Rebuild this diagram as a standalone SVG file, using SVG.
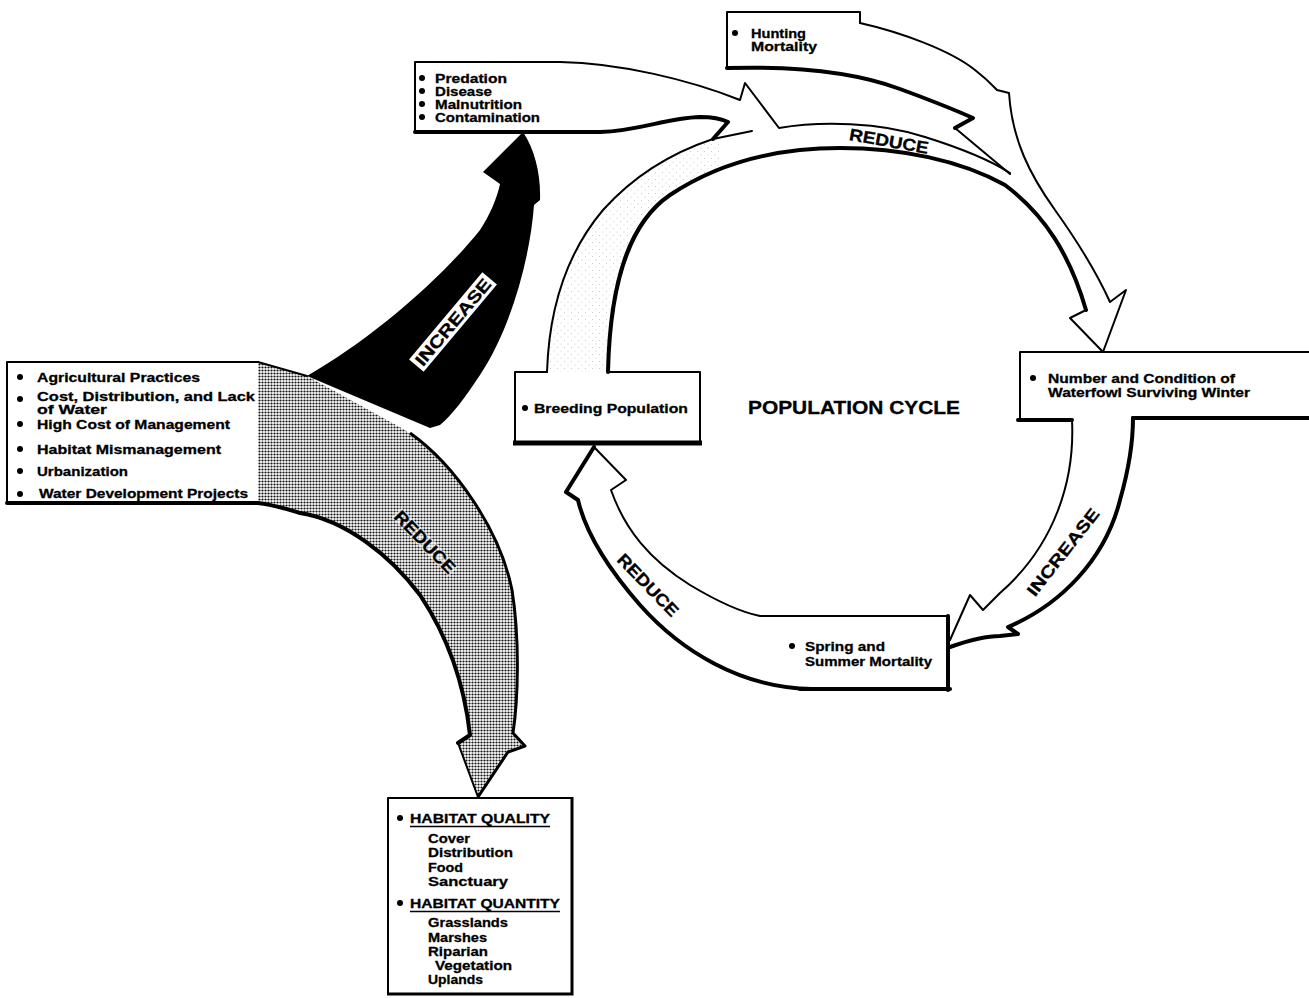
<svg xmlns="http://www.w3.org/2000/svg" width="1309" height="998" viewBox="0 0 1309 998">
<defs>
<pattern id="stipple" width="3" height="3" patternUnits="userSpaceOnUse"><rect width="3" height="3" fill="#fff"/><circle cx="1.5" cy="1.5" r="1.1" fill="#111"/></pattern>
<pattern id="lightdots" width="7" height="7" patternUnits="userSpaceOnUse"><circle cx="1" cy="1" r="0.5" fill="#bbb"/><circle cx="4.5" cy="4.5" r="0.5" fill="#bbb"/></pattern>
<clipPath id="leftarc"><rect x="530" y="120" width="190" height="260"/></clipPath>
</defs>
<style>
.t{font-family:"Liberation Sans",Arial,Helvetica,sans-serif;font-weight:bold;font-size:13.5px;fill:#000;stroke:#000;stroke-width:0.3}
.s{font-size:13px}
.lbl{font-family:"Liberation Sans",Arial,Helvetica,sans-serif;font-weight:bold;font-size:17px;fill:#000;stroke:#000;stroke-width:0.3}
.big{font-family:"Liberation Sans",Arial,Helvetica,sans-serif;font-weight:bold;font-size:18px;fill:#000;stroke:#000;stroke-width:0.3}
.thin{fill:none;stroke:#000;stroke-width:2;stroke-linejoin:round;stroke-linecap:round}
.thick{fill:none;stroke:#000;stroke-width:4;stroke-linejoin:round;stroke-linecap:round}
.wf{fill:#fff;stroke:none}
.b{fill:#000}
</style>
<rect width="1309" height="998" fill="#fff"/>

<g id="connectors">
  <g id="connector-fills">
    <path id="ring-top-fill" class="wf" d="M547,372 C549,310 565,255 603,210 C630,180 665,155 714,139 L779,128 C820,121 880,122 925,137 C960,148 990,160 1010,173 L1035,182 C1060,215 1095,270 1110,302 L1126,290 L1103,352 L1070,318 L1086,310 C1070,255 1045,215 1005,185 C960,160 900,148 840,148 C770,148 715,165 670,195 C630,222 610,280 608,372 Z"/>
    <path fill="url(#lightdots)" clip-path="url(#leftarc)" d="M547,372 C549,310 565,255 603,210 C630,180 665,155 714,139 L779,128 L790,150 C770,148 715,165 670,195 C630,222 610,280 608,372 Z"/>
    <path id="predation-arrow-fill" class="wf" d="M560,62 C620,63 690,80 740,100 L745,83 L790,136 L752,131 L713,139 L728,122 C722,119 712,117 700,117 C665,118 640,131 600,132 L560,132 Z"/>
    <path id="hunting-arrow-fill" class="wf" d="M858,12 H860 V23 C900,32 950,50 975,70 C988,80 995,88 997,90 L1009,93 C1012,140 1030,175 1040,190 L1010,174 L955,128 L973,118 C955,110 930,100 900,89 C880,80 870,74 858,72 Z"/>
    <path id="reduce-lower-fill" class="wf" d="M805,689 C740,688 680,650 640,605 C605,565 585,530 578,500 L566,492 L594,447 L626,480 L611,490 C625,530 650,560 690,585 C715,600 740,612 760,616 L800,616 Z"/>
    <path id="increase-right-fill" class="wf" d="M1072,418 C1075,480 1055,545 1000,593 L983,610 L970,595 L950,640 L952,646 C970,640 985,636 1000,636 L1018,634 L1008,627 C1060,605 1105,560 1120,500 C1130,465 1133,440 1133,418 Z"/>
    <path id="reduce-gray-fill" fill="url(#stipple)" d="M258,362 L307,376 L405,430 C455,465 500,530 512,590 C520,640 518,700 513,733 L525,746 L508,752 L478,797 L458,743 L470,735 C465,690 450,640 420,595 C390,555 345,520 300,513 L258,503 Z"/>
    <path id="increase-black-fill" fill="#000" d="M307,376 C370,340 440,280 480,230 C490,215 497,198 500,184 L483,172 L523,132 C535,150 541,175 540,200 L534,205 C530,260 510,330 480,375 C465,398 452,415 440,425 L430,428 Z"/>
  </g>
  <g id="connector-strokes">
    <path class="thin" d="M560,62 C620,63 690,80 740,100 L745,83 L779,128 C820,121 880,122 925,137 C960,148 990,160 1010,173"/>
    <path class="thick" d="M415,132 H600 C640,131 665,118 700,117 C712,117 722,119 728,122 L713,139"/>
    <path class="thin" d="M547,372 C549,310 565,255 603,210 C630,180 665,155 713,139 L752,131"/>
    <path class="thick" d="M727,68 C800,66 860,74 900,89 C930,100 955,110 973,118 L955,128"/>
    <path class="thin" d="M955,128 L1010,174"/>
    <path class="thin" d="M860,23 C900,32 950,50 975,70 C988,80 995,88 997,90 L1009,93 C1012,140 1030,175 1055,210 C1080,245 1100,280 1110,302 L1126,290 L1103,352"/>
    <path class="thin" d="M1103,352 L1070,318 L1086,310"/>
    <path class="thick" d="M1086,310 C1070,255 1045,215 1005,185 C960,160 900,148 840,148 C770,148 715,165 670,195 C630,222 610,280 608,372"/>
    <path class="thick" d="M812,689 C740,688 680,650 640,605 C605,565 585,530 578,500 L566,492 L594,447"/>
    <path class="thin" d="M594,447 L626,480 L611,490 C625,530 650,560 690,585 C715,600 740,612 760,616 H948"/>
    <path class="thin" d="M1072,420 C1075,480 1055,545 1000,593 L983,610 L970,595 L950,640"/>
    <path class="thick" d="M1133,418 C1133,440 1130,465 1120,500 C1105,560 1060,605 1008,627 L1018,634 L1000,636 C985,636 970,640 950,647"/>
    <path class="thin" d="M258,362 L307,376"/>
    <path class="thick" d="M7,503 H258 C275,505 290,510 300,513 C345,520 390,555 420,595 C450,640 465,690 470,735 L458,743"/>
    <path class="thin" d="M458,743 L478,797"/>
    <path fill="none" stroke="#000" stroke-width="3" stroke-linejoin="round" d="M410,433 C455,465 500,530 512,590 C520,640 518,700 513,733 L525,746 L508,752 L478,797"/>
  </g>
  <g id="connector-labels">
    <text class="lbl" transform="translate(889,141) rotate(10)" text-anchor="middle" y="6" textLength="80" lengthAdjust="spacingAndGlyphs">REDUCE</text>
    <text class="lbl" transform="translate(1063,552) rotate(-52)" text-anchor="middle" y="6" textLength="106" lengthAdjust="spacingAndGlyphs">INCREASE</text>
    <text class="lbl" transform="translate(648,585) rotate(46)" text-anchor="middle" y="6" textLength="80" lengthAdjust="spacingAndGlyphs">REDUCE</text>
    <g transform="translate(425,542) rotate(46)">
      <path d="M-41,-7 H41 V7 H-41 Z" fill="#fff" opacity="0.55"/>
      <text class="lbl" text-anchor="middle" y="6" textLength="80" lengthAdjust="spacingAndGlyphs">REDUCE</text>
    </g>
    <g transform="translate(453,322) rotate(-50)">
      <rect x="-57" y="-9.5" width="114" height="19" fill="#fff"/>
      <text class="lbl" text-anchor="middle" y="6" textLength="108" lengthAdjust="spacingAndGlyphs">INCREASE</text>
    </g>
  </g>
</g>

<g id="node-predation">
  <path class="thin" d="M560,62 H415 V132"/>
  <circle class="b" cx="422" cy="78" r="3"/><circle class="b" cx="422" cy="91" r="3"/><circle class="b" cx="422" cy="104" r="3"/><circle class="b" cx="422" cy="117" r="3"/>
  <text class="t" x="435" y="82.5" textLength="72" lengthAdjust="spacingAndGlyphs">Predation</text>
  <text class="t" x="435" y="95.5" textLength="57" lengthAdjust="spacingAndGlyphs">Disease</text>
  <text class="t" x="435" y="108.5" textLength="87" lengthAdjust="spacingAndGlyphs">Malnutrition</text>
  <text class="t" x="435" y="121.5" textLength="105" lengthAdjust="spacingAndGlyphs">Contamination</text>
</g>

<g id="node-hunting">
  <path class="thin" d="M860,23 V12 H727 V68"/>
  <circle class="b" cx="735" cy="33" r="3"/>
  <text class="t" x="751" y="37.5" textLength="55" lengthAdjust="spacingAndGlyphs">Hunting</text>
  <text class="t" x="751" y="50.5" textLength="66" lengthAdjust="spacingAndGlyphs">Mortality</text>
</g>

<g id="node-factors">
  <path class="thin" d="M258,362 H7 V503"/>
  <circle class="b" cx="20" cy="377" r="3"/>
  <text class="t" x="37" y="381.5" textLength="163" lengthAdjust="spacingAndGlyphs">Agricultural Practices</text>
  <circle class="b" cx="20" cy="399" r="3"/>
  <text class="t s" x="37" y="401" textLength="218" lengthAdjust="spacingAndGlyphs">Cost, Distribution, and Lack</text>
  <text class="t s" x="37" y="413.5" textLength="70" lengthAdjust="spacingAndGlyphs">of Water</text>
  <circle class="b" cx="20" cy="424" r="3"/>
  <text class="t" x="37" y="428.5" textLength="193" lengthAdjust="spacingAndGlyphs">High Cost of Management</text>
  <circle class="b" cx="20" cy="449" r="3"/>
  <text class="t" x="37" y="454" textLength="184" lengthAdjust="spacingAndGlyphs">Habitat Mismanagement</text>
  <circle class="b" cx="20" cy="471" r="3"/>
  <text class="t" x="37" y="475.5" textLength="91" lengthAdjust="spacingAndGlyphs">Urbanization</text>
  <circle class="b" cx="20" cy="494" r="3"/>
  <text class="t" x="39" y="497.5" textLength="209" lengthAdjust="spacingAndGlyphs">Water Development Projects</text>
</g>

<g id="node-breeding">
  <path class="thin" d="M547,372 H515 V443"/>
  <path class="thin" d="M608,372 H700 V443"/>
  <path fill="none" stroke="#000" stroke-width="5" d="M513,443 H702"/>
  <circle class="b" cx="525" cy="408" r="3"/>
  <text class="t" x="534" y="413" textLength="154" lengthAdjust="spacingAndGlyphs">Breeding Population</text>
</g>

<g id="node-title">
  <text class="big" x="748" y="413.5" textLength="212" lengthAdjust="spacingAndGlyphs">POPULATION CYCLE</text>
</g>

<g id="node-winter">
  <path class="thin" d="M1020,420 V352 H1312"/>
  <path class="thick" d="M1018,420 H1072"/>
  <path class="thick" d="M1133,418 H1312"/>
  <circle class="b" cx="1033" cy="378" r="3"/>
  <text class="t" x="1048" y="382.5" textLength="187" lengthAdjust="spacingAndGlyphs">Number and Condition of</text>
  <text class="t" x="1048" y="396.5" textLength="202" lengthAdjust="spacingAndGlyphs">Waterfowl Surviving Winter</text>
</g>

<g id="node-spring">
  <path class="thick" d="M948,616 V690"/>
  <path class="thick" d="M800,689 H950"/>
  <circle class="b" cx="792" cy="646" r="3"/>
  <text class="t" x="805" y="650.5" textLength="80" lengthAdjust="spacingAndGlyphs">Spring and</text>
  <text class="t" x="805" y="665.5" textLength="127" lengthAdjust="spacingAndGlyphs">Summer Mortality</text>
</g>

<g id="node-habitat">
  <path class="thin" d="M572,798 H388 V994"/>
  <path fill="none" stroke="#000" stroke-width="3" d="M572,797 V994 H387"/>
  <circle class="b" cx="400" cy="818" r="3"/>
  <text class="t" x="410" y="823" textLength="140" lengthAdjust="spacingAndGlyphs">HABITAT QUALITY</text>
  <path fill="none" stroke="#000" stroke-width="1.6" d="M410,826.5 H550"/>
  <text class="t" x="428" y="843" textLength="42" lengthAdjust="spacingAndGlyphs">Cover</text>
  <text class="t" x="428" y="857" textLength="85" lengthAdjust="spacingAndGlyphs">Distribution</text>
  <text class="t" x="428" y="872" textLength="35" lengthAdjust="spacingAndGlyphs">Food</text>
  <text class="t" x="428" y="886" textLength="80" lengthAdjust="spacingAndGlyphs">Sanctuary</text>
  <circle class="b" cx="400" cy="903" r="3"/>
  <text class="t" x="410" y="908" textLength="150" lengthAdjust="spacingAndGlyphs">HABITAT QUANTITY</text>
  <path fill="none" stroke="#000" stroke-width="1.6" d="M410,911.5 H560"/>
  <text class="t" x="428" y="927" textLength="80" lengthAdjust="spacingAndGlyphs">Grasslands</text>
  <text class="t" x="428" y="941.5" textLength="59" lengthAdjust="spacingAndGlyphs">Marshes</text>
  <text class="t" x="428" y="955.5" textLength="60" lengthAdjust="spacingAndGlyphs">Riparian</text>
  <text class="t" x="435" y="969.5" textLength="77" lengthAdjust="spacingAndGlyphs">Vegetation</text>
  <text class="t" x="428" y="983.5" textLength="55" lengthAdjust="spacingAndGlyphs">Uplands</text>
</g>
</svg>
